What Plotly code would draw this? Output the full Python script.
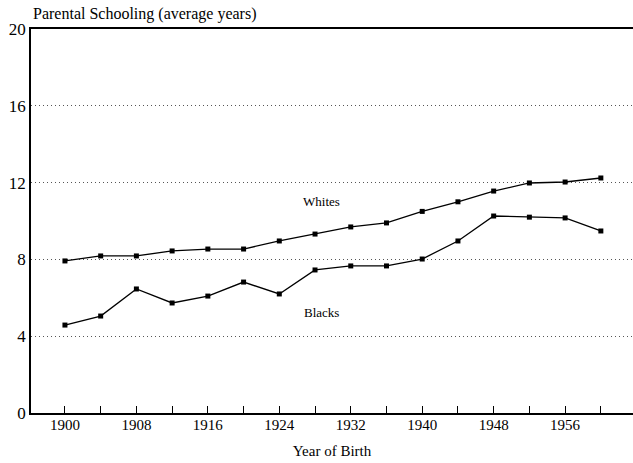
import plotly.graph_objects as go

years = [1900, 1904, 1908, 1912, 1916, 1920, 1924, 1928, 1932, 1936, 1940, 1944, 1948, 1952, 1956, 1960]
whites = [7.92, 8.18, 8.18, 8.44, 8.54, 8.54, 8.96, 9.32, 9.69, 9.9, 10.5, 11.0, 11.56, 11.98, 12.03, 12.24]
blacks = [4.58, 5.05, 6.46, 5.73, 6.09, 6.82, 6.2, 7.45, 7.66, 7.66, 8.02, 8.96, 10.26, 10.2, 10.16, 9.48]
y_ticks = [0, 4, 8, 12, 16, 20]
x_ticks = [1900, 1908, 1916, 1924, 1932, 1940, 1948, 1956]

FONT = "Liberation Serif"

fig = go.Figure()
for name, vals in [("Whites", whites), ("Blacks", blacks)]:
    fig.add_trace(go.Scatter(
        x=years, y=vals, mode="lines+markers", name=name,
        line=dict(color="black", width=1.3),
        marker=dict(symbol="square", size=5, color="black"),
        showlegend=False,
    ))

fig.add_annotation(x=1928.7, y=11.04, text="Whites", showarrow=False,
                   font=dict(family=FONT, size=13, color="black"), xref="x", yref="y")
fig.add_annotation(x=1928.7, y=5.26, text="Blacks", showarrow=False,
                   font=dict(family=FONT, size=13, color="black"), xref="x", yref="y")
fig.add_annotation(x=0, xref="paper", xanchor="left", y=1.0, yref="paper", yanchor="bottom",
                   yshift=4, text="Parental Schooling (average years)", showarrow=False,
                   font=dict(family=FONT, size=16, color="black"))

fig.update_layout(
    width=633, height=463,
    margin=dict(l=31, r=0, t=29, b=50),
    paper_bgcolor="white", plot_bgcolor="white",
    font=dict(family=FONT, size=15, color="black"),
    xaxis=dict(
        range=[1896.2, 1963.6], tickvals=x_ticks, ticktext=[str(v) for v in x_ticks],
        ticks="inside", ticklen=7, tickwidth=1, tickcolor="black",
        minor=dict(ticks="inside", dtick=4, tick0=1900, ticklen=7, tickwidth=1, tickcolor="black", showgrid=False),
        showline=True, linecolor="black", linewidth=1.5, mirror=True,
        showgrid=False, zeroline=False, automargin=False,
        ticklabelstandoff=-3,
        tickfont=dict(family=FONT, size=15, color="black"),
        title=dict(text="Year of Birth", font=dict(family=FONT, size=15, color="black"), standoff=14),
    ),
    yaxis=dict(
        range=[0, 20], tickvals=y_ticks, ticktext=[str(v) for v in y_ticks],
        ticks="", showline=True, linecolor="black", linewidth=1.5, mirror=False,
        showgrid=True, gridcolor="#555555", griddash="1px,3px", gridwidth=1,
        zeroline=False, automargin=False,
        tickfont=dict(family=FONT, size=17, color="black"),
    ),
)

fig.write_html("out.html", config={"displayModeBar": False},
               post_script="document.body.style.margin='0';")
